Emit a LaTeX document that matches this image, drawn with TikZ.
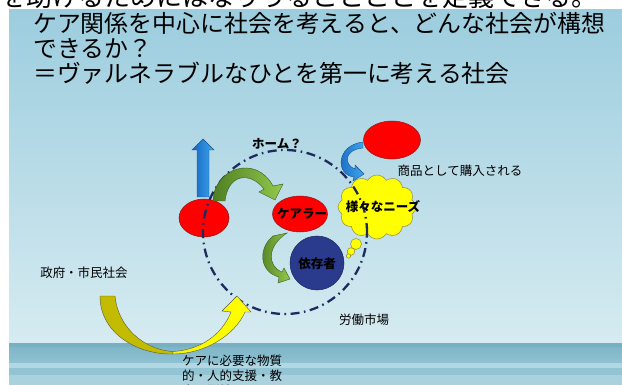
\documentclass[tikz,border=0pt]{standalone}
\usepackage{fontspec}
\setmainfont{Noto Sans CJK JP}
\usetikzlibrary{shapes.geometric,shapes.symbols}
\definecolor{skytop}{HTML}{9CCDDE}
\definecolor{skybot}{HTML}{D6EBF1}
\definecolor{seaA}{HTML}{78B0C3}
\definecolor{seaB}{HTML}{8FC2D2}
\definecolor{seaC}{HTML}{B0D7E2}
\definecolor{seaD}{HTML}{92C4D3}
\definecolor{seaE}{HTML}{A9D2DE}
\definecolor{redfill}{HTML}{FF0000}
\definecolor{redline}{HTML}{8B1A1A}
\definecolor{navyfill}{HTML}{2A3A8C}
\definecolor{navyline}{HTML}{1B2560}
\definecolor{ringcol}{HTML}{1E2B5E}
\definecolor{cloudfill}{HTML}{FFFF00}
\definecolor{cloudline}{HTML}{8A8A40}
\definecolor{greenA}{HTML}{4F7F23}
\definecolor{greenB}{HTML}{93C94C}
\definecolor{greenL}{HTML}{3A5A1A}
\definecolor{blueA}{HTML}{1565C0}
\definecolor{blueB}{HTML}{3FA6EE}
\definecolor{blueL}{HTML}{1A4F8A}
\definecolor{olive}{HTML}{C2BB00}
\definecolor{arrowline}{HTML}{5A5A3A}
\tikzset{
  redell/.style={ellipse, fill=redfill, draw=redline, line width=0.5pt, inner sep=0pt},
  lbl/.style={inner sep=0pt, text=black, font=\bfseries\fontsize{12.5}{15}\selectfont},
  ring/.style={circle, draw=ringcol, line width=2.3pt, dash pattern=on 9pt off 4.5pt on 1.6pt off 4.5pt, inner sep=0pt},
  greenarrow/.style={left color=greenA, right color=greenB, draw=greenL, line width=0.4pt},
  bluearrow/.style={left color=blueA, right color=blueB, draw=blueL, line width=0.4pt},
}
\begin{document}
\begin{tikzpicture}[x=1pt,y=-1pt]
\useasboundingbox (0,0) rectangle (622,385);
\clip (0,0) rectangle (622,385);
\fill[white] (0,0) rectangle (622,385);
% sky
\shade[top color=skytop, bottom color=skybot] (9,10) rectangle (622,343);
% sea
\fill[seaB] (9,343) rectangle (622,385);
\fill[seaA] (9,343) rectangle (622,347);
\shade[top color=seaA!70!seaB, bottom color=seaB] (9,347) rectangle (622,363);
\fill[seaC] (9,363) rectangle (622,368);
\fill[seaD] (9,368) rectangle (622,375);
\fill[seaE] (9,375) rectangle (622,385);
% clipped top text
\node[anchor=base west, inner sep=0pt, font=\fontsize{26}{30}\selectfont] (toptext) at (0,6.5) {を助けるためにはなりうることことを定義できる。};
% title
\node[anchor=north west, align=left, inner sep=0pt, font=\fontsize{23.9}{25}\selectfont] (title) at (33,12)
  {ケア関係を中心に社会を考えると、どんな社会が構想\\できるか？\\＝ヴァルネラブルなひとを第一に考える社会};

% shapes
\node[redell, minimum width=50pt, minimum height=38pt] (left) at (204,218) {};
\node[redell, minimum width=55pt, minimum height=36pt] (carer) at (300,214) {};
\node[lbl] (carerlbl) at (302,214) {ケアラー};
\node[redell, minimum width=57pt, minimum height=38pt] (goods) at (392,140) {};
\node[circle, fill=navyfill, draw=navyline, line width=0.5pt, minimum size=54pt, inner sep=0pt] (dep) at (317,263) {};
\node[lbl] (deplbl) at (317,264) {依存者};
% cloud
\node[cloud, cloud puffs=12, cloud puff arc=120, aspect=1.25, fill=cloudfill, draw=cloudline, line width=0.5pt, minimum width=78pt, minimum height=64pt] (needs) at (377,207) {};
\fill[cloudfill, draw=cloudline, line width=0.5pt] (356,244) circle[radius=5.5pt];
\fill[cloudfill, draw=cloudline, line width=0.5pt] (351,251.5) circle[radius=3.8pt];
\fill[cloudfill, draw=cloudline, line width=0.5pt] (348.5,256) circle[radius=2.2pt];

% ring
\node[ring, minimum size=164pt] (homering) at (285,232) {};
\node[lbl] (needslbl) at (383,207) {様々なニーズ};

% blue up arrow
\path[bluearrow] (197,197) -- (197,150) -- (192,150) -- (203,139) -- (214,150) -- (209,150) -- (209,197) -- cycle;
% green arrow left -> carer
\path[greenarrow] (213,201) .. controls (214,168) and (256,154) .. (273,186) -- (283,184) -- (275,200) -- (259,192) -- (264,189) .. controls (250,171) and (228,174) .. (225,201) -- cycle;
% green arrow carer -> dependent
\path[greenarrow] (273,236) .. controls (258,248) and (259,272) .. (279,277) -- (278,283) -- (290,279) -- (284,268) -- (282,272) .. controls (267,266) and (267,246) .. (287,233) -- cycle;
% blue crescent goods -> needs
\path[bluearrow] (363,142) .. controls (336,145) and (335,175) .. (354,177) -- (353,181) -- (364,174) -- (355,165) -- (355,169) .. controls (344,165) and (343,150) .. (363,148) -- cycle;
% big yellow arrow
\path[fill=olive, draw=arrowline, line width=0.4pt] (100,296) -- (115,296) .. controls (118,328) and (145,350) .. (173,351.5) -- (173,354) .. controls (140,355) and (100,335) .. (100,296) -- cycle;
\path[left color=yellow!85!olive, right color=yellow, draw=arrowline, line width=0.4pt] (173,354) .. controls (205,354) and (235,335) .. (245,312) -- (251,312) -- (237,296) -- (222,311) -- (231,312) .. controls (222,335) and (200,350) .. (173,351.5) -- cycle;

% labels
\node[lbl] (home) at (277,144) {ホーム？};
\node[lbl, font=\fontsize{12.5}{15}\selectfont] (buy) at (460,171) {商品として購入される};
\node[lbl, font=\fontsize{12.5}{15}\selectfont] (gov) at (84,273) {政府・市民社会};
\node[lbl, font=\fontsize{12.5}{15}\selectfont] (labor) at (364,320) {労働市場};
\node[lbl, font=\fontsize{12.5}{15}\selectfont, anchor=north west, align=left] (support) at (182,355) {ケアに必要な物質\\的・人的支援・教\\育・訓練};
\end{tikzpicture}
\end{document}
